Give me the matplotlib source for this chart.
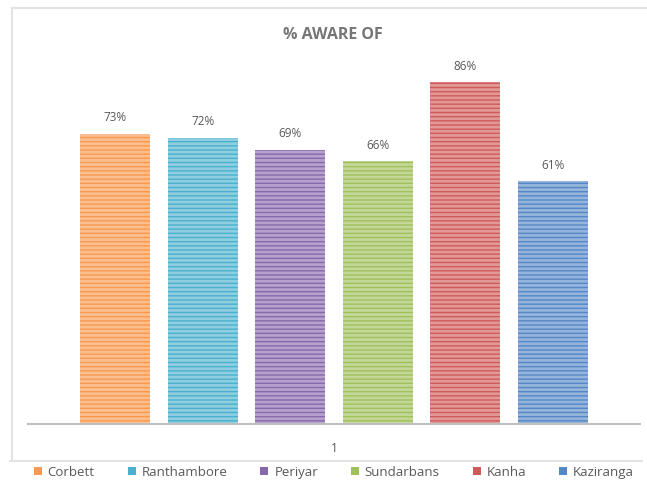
import matplotlib
matplotlib.use("Agg")
import matplotlib.pyplot as plt
from matplotlib.patches import Patch
from matplotlib.lines import Line2D

plt.rcParams['font.family'] = ['Open Sans', 'DejaVu Sans']
plt.rcParams['hatch.linewidth'] = 2.0

parks = ["Corbett", "Ranthambore", "Periyar", "Sundarbans", "Kanha", "Kaziranga"]
aware = [73, 72, 69, 66, 86, 61]
colors = ["#F8994F", "#4BAFCD", "#8868AC", "#A0C05C", "#D05A58", "#5487C5"]
category = ["1"]
title = "% AWARE OF"

W, H = 647, 481
fig = plt.figure(figsize=(W / 100, H / 100), dpi=100)

def px_box(left, top, right, bottom):
    return [left / W, 1 - bottom / H, (right - left) / W, (bottom - top) / H]

ax = fig.add_axes(px_box(28, 67, 640, 425))
xs = list(range(len(parks)))
for x, v, c in zip(xs, aware, colors):
    ax.bar(x, v, width=0.8, color=c, edgecolor=(1, 1, 1, 0.38),
           linewidth=0, hatch="----", zorder=2)
    ax.text(x, v + 2.6, f"{v}%", ha="center", va="bottom",
            fontsize=8.5, color="#595959")

ax.set_xlim(-1, 6)
ax.set_ylim(0, 90)
for s in ["top", "right", "left"]:
    ax.spines[s].set_visible(False)
ax.spines["bottom"].set_color("#BFBFBF")
ax.spines["bottom"].set_linewidth(1.5)
ax.spines["bottom"].set_zorder(3)
ax.set_yticks([])
ax.set_xticks([2.5])
ax.set_xticklabels(category, fontsize=8.5, color="#595959")
ax.tick_params(axis="x", length=0, pad=12)

fig.text(333 / W, 1 - 35 / H, title, ha="center", va="center",
         fontsize=11.5, fontweight="bold", color="#767676")

# chart frame
frame = dict(color="#E3E3E3", linewidth=1.5, transform=fig.transFigure)
fig.add_artist(Line2D([12 / W, 1], [1 - 9 / H, 1 - 9 / H], **frame))
fig.add_artist(Line2D([12 / W, 12 / W], [1 - 9 / H, 1 - 462 / H], **frame))
fig.add_artist(Line2D([10 / W, 642 / W], [1 - 462 / H, 1 - 462 / H], **frame))

handles = [Patch(facecolor=c, edgecolor="none") for c in colors]
fig.legend(handles, parks, loc="center", bbox_to_anchor=(334 / W, 1 - 473 / H),
           ncol=6, frameon=False, fontsize=9.5, labelcolor="#595959",
           handlelength=0.6, handleheight=0.6, handletextpad=0.45,
           columnspacing=2.5, borderpad=0)

fig.savefig("out.png", dpi=100)
